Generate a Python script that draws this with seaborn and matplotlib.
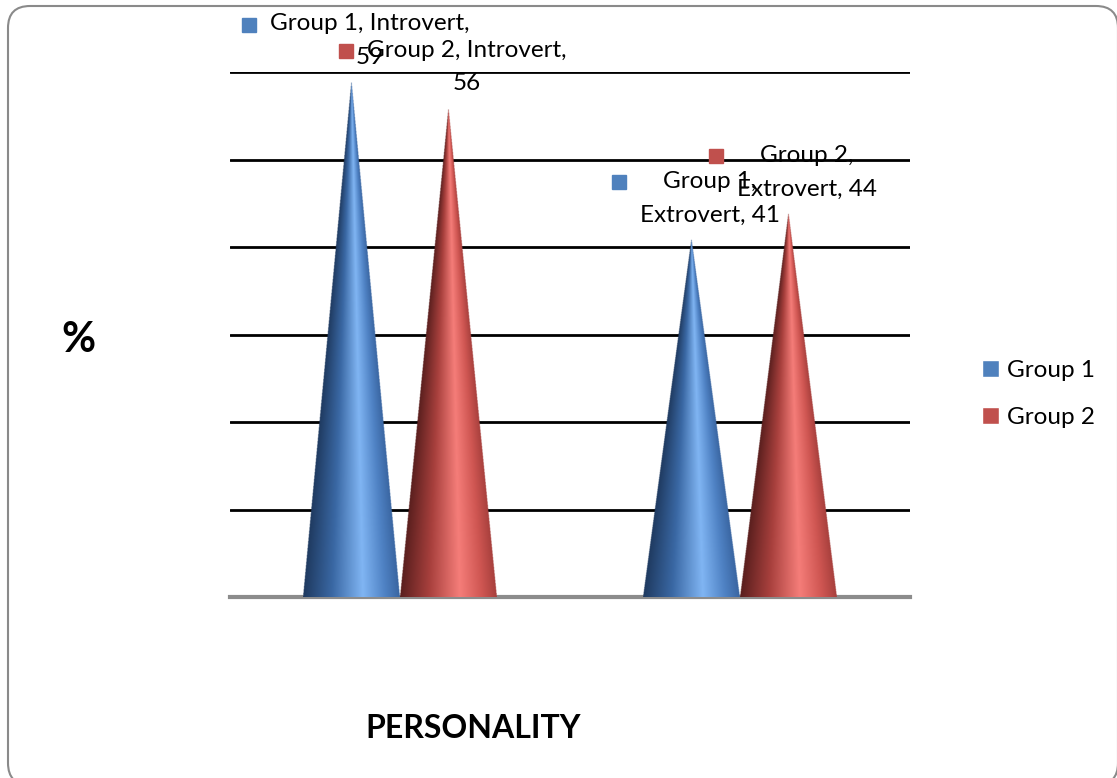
import numpy as np
import pandas as pd
import seaborn as sns
import matplotlib.pyplot as plt
from matplotlib.colors import LinearSegmentedColormap
from matplotlib.patches import FancyBboxPatch, Patch
from matplotlib.lines import Line2D
from matplotlib.transforms import IdentityTransform

# data
categories = ["Introvert", "Extrovert"]
groups = ["Group 1", "Group 2"]
group1_vals = [59, 41]
group2_vals = [56, 44]
y_ticks = [10, 20, 30, 40, 50, 60]

df = pd.DataFrame({
    "personality": categories * 2,
    "group": [groups[0]] * 2 + [groups[1]] * 2,
    "value": group1_vals + group2_vals,
})

flat_colors = {"Group 1": "#4f81bd", "Group 2": "#c0504d"}
cone_cmaps = {
    "Group 1": LinearSegmentedColormap.from_list("b", [(0, "#1f3a60"), (0.3, "#3a68a4"), (0.62, "#80b5f3"),
                                                         (0.85, "#4f82c4"), (1, "#3a66a2")]),
    "Group 2": LinearSegmentedColormap.from_list("r", [(0, "#5a1f1e"), (0.3, "#a8403d"), (0.62, "#f57d79"),
                                                         (0.85, "#cf5652"), (1, "#a8403d")]),
}

sns.set_style("white")
plt.rcParams["font.family"] = ["Lato", "DejaVu Sans"]
plt.rcParams["text.color"] = "black"

fig = plt.figure(figsize=(11.17, 7.78), dpi=100)
ax = fig.add_axes([230 / 1117, 1 - 597 / 778, 680 / 1117, 525 / 778])

sns.barplot(data=df, x="personality", y="value", hue="group", order=categories, hue_order=groups,
            palette=flat_colors, width=0.57, legend=False, ax=ax)

ax.set_xlim(-0.5, 1.5)
ax.set_ylim(0, 60)
ax.set_yticks(y_ticks)
ax.set_yticklabels([])
ax.tick_params(left=False, bottom=False, labelbottom=False)
ax.set_xlabel("")
ax.set_ylabel("")
ax.grid(axis="y", color="black", lw=2)
ax.set_axisbelow(True)
for s in ["top", "right", "left"]:
    ax.spines[s].set_visible(False)
ax.spines["bottom"].set_color("#8c8c8c")
ax.spines["bottom"].set_linewidth(3)

# turn each bar into a shaded cone
labels = []
for gi, cont in enumerate(ax.containers):
    g = groups[gi]
    for ci, bar in enumerate(cont):
        x0, w, h = bar.get_x(), bar.get_width(), bar.get_height()
        bar.set_visible(False)
        c = x0 + w / 2
        xs = np.linspace(x0, x0 + w, 300)
        ys = np.linspace(0, h, 600)
        X, Y = np.meshgrid(xs, ys)
        half = (w / 2) * (1 - Y / h) + 1e-9
        u = (X - c) / half
        rgba = cone_cmaps[g](np.clip((u + 1) / 2, 0, 1))
        rgba[..., 3] = (np.abs(u) <= 1).astype(float)
        ax.imshow(rgba, extent=(x0, x0 + w, 0, h), origin="lower", aspect="auto",
                  interpolation="bilinear", zorder=3)
        cat = categories[ci]
        if cat == "Introvert":
            txt = f"{g}, {cat},\n{int(h)}"
        else:
            txt = f"{g},\n{cat}, {int(h)}"
        t = ax.annotate(txt, xy=(c, h), xytext=(13, 9), textcoords="offset points",
                        ha="center", va="bottom", fontsize=17.5, linespacing=1.75,
                        color="black", zorder=5, annotation_clip=False)
        labels.append((t, g))

ax.set_xlim(-0.5, 1.5)
ax.set_ylim(0, 60)

# marker squares next to data labels
fig.canvas.draw()
r = fig.canvas.get_renderer()
inv = fig.transFigure.inverted()
for t, g in labels:
    bb = t.get_window_extent(r)
    line_h = bb.height / 2
    px, py = inv.transform((bb.x0 - 21, bb.y1 - line_h * 0.42))
    fig.add_artist(Line2D([px], [py], marker="s", markersize=9.5, color=flat_colors[g],
                          transform=fig.transFigure, linestyle="none"))

handles = [Patch(facecolor=flat_colors[g], label=g) for g in groups]
fig.legend(handles=handles, loc="center left", bbox_to_anchor=(960 / 1117, 1 - 394 / 778),
           frameon=False, fontsize=17.5, handlelength=0.7, handleheight=0.7, handletextpad=0.35,
           labelspacing=1.1, labelcolor="black")

fig.text(78 / 1117, 1 - 340 / 778, "%", fontsize=30, fontweight="bold", ha="center", va="center",
         color="black")
fig.text(473 / 1117, 1 - 728 / 778, "PERSONALITY", fontsize=23, fontweight="bold", ha="center",
         va="center", color="black")

frame = FancyBboxPatch((8, -7), 1110, 779, boxstyle="round,pad=0,rounding_size=22",
                       transform=IdentityTransform(), facecolor="none", edgecolor="#8a8a8a", lw=1.5)
fig.add_artist(frame)

fig.savefig("out.png", dpi=100)
